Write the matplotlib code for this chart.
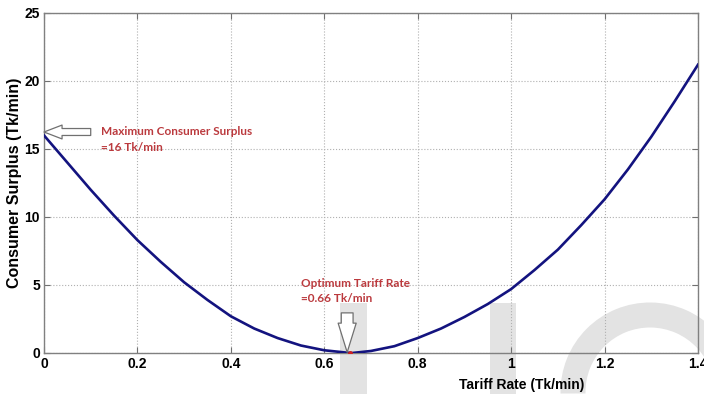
import matplotlib
matplotlib.use("Agg")
import matplotlib.pyplot as plt
from matplotlib.patches import Rectangle, Arc

# values
tariff = [0.00, 0.05, 0.10, 0.15, 0.20, 0.25, 0.30, 0.35, 0.40, 0.45, 0.50, 0.55,
          0.60, 0.65, 0.66, 0.70, 0.75, 0.80, 0.85, 0.90, 0.95, 1.00, 1.05, 1.10,
          1.15, 1.20, 1.25, 1.30, 1.35, 1.40]
surplus = [16.0, 14.0, 12.0, 10.1, 8.3, 6.7, 5.2, 3.9, 2.7, 1.8, 1.1, 0.55,
           0.2, 0.02, 0.0, 0.15, 0.5, 1.1, 1.8, 2.65, 3.6, 4.7, 6.1, 7.6,
           9.4, 11.3, 13.5, 15.9, 18.5, 21.2]
xticks = [0, 0.2, 0.4, 0.6, 0.8, 1.0, 1.2, 1.4]
xtick_labels = ["0", "0.2", "0.4", "0.6", "0.8", "1", "1.2", "1.4"]
yticks = [0, 5, 10, 15, 20, 25]
max_surplus = (0.0, 16.25)
optimum = (0.655, 0.0)

RED = "#bb3a3e"
NAVY = "#13137f"
WM = "#e3e3e3"

plt.rcParams["font.family"] = ["Liberation Sans", "DejaVu Sans"]

W, H = 704, 394
fig = plt.figure(figsize=(W / 100, H / 100), dpi=100)
ax = fig.add_axes([44 / W, (H - 353) / H, (698 - 44) / W, (353 - 13) / H])
ax.set_facecolor("none")

# faint page watermark behind the plot (pixel coords from top-left)
def px_rect(x0, y0, x1, y1):
    return Rectangle((x0 / W, 1 - y1 / H), (x1 - x0) / W, (y1 - y0) / H,
                     transform=fig.transFigure, color=WM, zorder=-5, lw=0)

fig.add_artist(px_rect(340, 303, 367, 394))
fig.add_artist(px_rect(490, 303, 516, 394))
fig.add_artist(Arc((650 / W, 1 - 392 / H), 154 / W, 154 / H, theta1=-5, theta2=182,
                   transform=fig.transFigure, color=WM, lw=18, zorder=-5))

ax.plot(tariff, surplus, color=NAVY, lw=1.9, zorder=3)
ax.plot(*optimum, "o", color="#d02020", ms=2.5, zorder=4)

ax.set_xlim(0, 1.4)
ax.set_ylim(0, 25)
ax.set_xticks(xticks)
ax.set_xticklabels(xtick_labels)
ax.set_yticks(yticks)
ax.grid(True, color="#b0b0b0", ls=":", lw=0.8)
ax.tick_params(direction="in", length=4, color="#707070",
               top=True, right=True, labelsize=10, pad=3)
for lab in ax.get_xticklabels() + ax.get_yticklabels():
    lab.set_fontweight("bold")
for s in ax.spines.values():
    s.set_color("#808080")
    s.set_linewidth(1.0)

ax.set_ylabel("Consumer Surplus (Tk/min)", fontsize=11.5, fontweight="bold", labelpad=2)
ax.set_xlabel("Tariff Rate (Tk/min)", fontsize=10, fontweight="bold", labelpad=3)
ax.xaxis.set_label_coords(0.73, -0.075)

# hollow arrows and red notes
left_arrow = dict(arrowstyle="simple,head_length=1.3,head_width=1.0,tail_width=0.5",
                  fc="white", ec="#707070", lw=0.9, mutation_scale=10,
                  shrinkA=0, shrinkB=0)
down_arrow = dict(arrowstyle="simple,head_length=2.1,head_width=1.3,tail_width=0.85",
                  fc="white", ec="#707070", lw=0.9, mutation_scale=10,
                  shrinkA=0, shrinkB=0)
ax.annotate("", xy=max_surplus, xytext=(0.1, max_surplus[1]),
            arrowprops=left_arrow, annotation_clip=False, zorder=5)
ax.annotate("", xy=(0.649, 0.05), xytext=(0.649, 2.95),
            arrowprops=down_arrow, annotation_clip=False, zorder=5)

note = dict(color=RED, fontsize=8.5, fontweight="bold", family=["Lato", "DejaVu Sans"],
            va="center", ha="left", linespacing=1.45)
ax.text(0.122, 15.7, "Maximum Consumer Surplus\n=16 Tk/min", **note)
ax.text(0.55, 4.55, "Optimum Tariff Rate\n=0.66 Tk/min", **note)

fig.savefig("out.png", dpi=100)
